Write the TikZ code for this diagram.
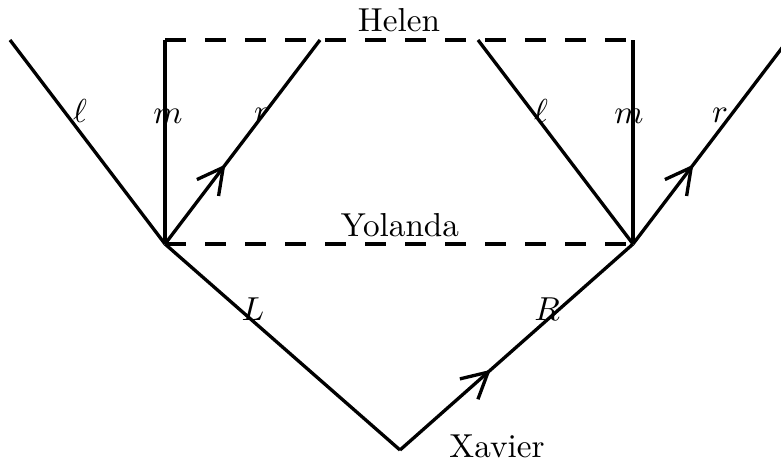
\documentclass[tikz,border=0pt]{standalone}
\usetikzlibrary{arrows.meta,decorations.markings}
\tikzset{
  edge/.style={line width=1pt},
  dash edge/.style={line width=1pt, dash pattern=on 6.3pt off 5.75pt},
  midarrow/.style={postaction={decorate},decoration={markings,
    mark=at position #1 with {\arrow{Straight Barb[length=7.7pt,width=8.2pt,line width=1pt]}}}},
  lab/.style={anchor=base, inner sep=0pt}
}
\begin{document}
\begin{tikzpicture}[x=0.3012pt,y=-0.3012pt]
\useasboundingbox (0,0) rectangle (781,461);
% named points
\coordinate (X) at (400,450);
\coordinate (A) at (165,244);
\coordinate (B) at (633,244);
\coordinate (LT) at (10,40);
\coordinate (HA) at (165,40);
\coordinate (HB) at (633,40);
\coordinate (RA) at (320,40);
\coordinate (LB) at (478,40);
\coordinate (RB) at (788,40);
% dashed rectangle
\draw[dash edge] (HA) -- (HB);
\draw[dash edge] (A) -- (B);
% solid lines
\draw[edge] (LT) -- (A);
\draw[edge] (A) -- (HA);
\draw[edge,midarrow=0.39] (A) -- (RA);
\draw[edge] (LB) -- (B);
\draw[edge] (B) -- (HB);
\draw[edge,midarrow=0.39] (B) -- (RB);
\draw[edge] (A) -- (X);
\draw[edge,midarrow=0.39] (X) -- (B);
% labels
\node[lab] (l1) at (80,122) {$\ell$};
\node[lab] (m1) at (168,123) {$m$};
\node[lab] (r1) at (262,122) {$r$};
\node[lab] (l2) at (541,122) {$\ell$};
\node[lab] (m2) at (629,123) {$m$};
\node[lab] (r2) at (720,122) {$r$};
\node[lab] (Llab) at (253,320) {$L$};
\node[lab] (Rlab) at (547,320) {$R$};
\node[lab] (helen) at (399,32) {Helen};
\node[lab] (yolanda) at (400,236) {Yolanda};
\node[lab] (xavier) at (497,457) {Xavier};
\end{tikzpicture}
\end{document}
